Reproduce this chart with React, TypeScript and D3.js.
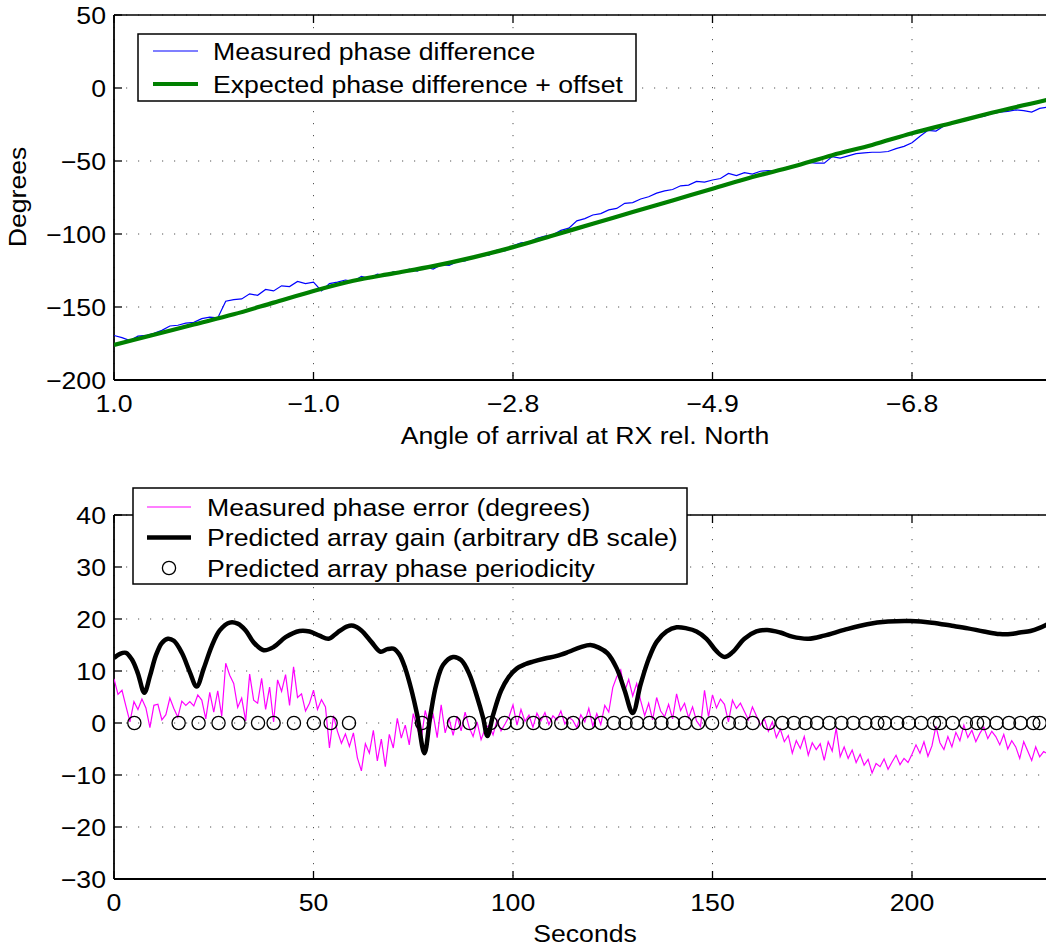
import React from "react";
import * as d3 from "d3";

// ---------- data ----------
const timeTicks = [0, 50, 100, 150, 200];
const angleTickLabels = ["1.0", "\u22121.0", "\u22122.8", "\u22124.9", "\u22126.8"];
const topYTicks = [-200, -150, -100, -50, 0, 50];
const bottomYTicks = [-30, -20, -10, 0, 10, 20, 30, 40];

// measured phase difference, sampled every 2 s
const measuredPhaseDiff = [
  -169.5, -171, -173, -170, -169.5, -168, -166, -163, -162.5, -161,
  -160.5, -158, -157, -157.5, -146, -145, -144.5, -141, -142, -138,
  -139, -135.5, -136, -132.5, -134, -133, -139, -134, -133, -131.5,
  -132.5, -129, -130.5, -127.5, -128.5, -126, -126.5, -124, -125.5, -122.5,
  -124, -121, -121.5, -119, -118.5, -116, -115, -114.5, -111, -111.5,
  -108, -106, -105.5, -103, -101.5, -100.5, -97.5, -96, -91, -89.5,
  -87, -86, -83.5, -82.5, -79, -78.5, -76, -74.5, -72, -70.5,
  -69.5, -67, -66.5, -64, -64.5, -63, -62, -58.5, -60, -58,
  -59, -57, -56.5, -57, -55, -53.5, -53, -51, -51.5, -51.5,
  -47, -48, -46.5, -45, -44.5, -44, -44, -43.5, -41.5, -40,
  -37.5, -33, -29, -29.5, -26, -24.5, -23, -21.5, -20, -19.5,
  -17.5, -16.5, -16, -15, -15.5, -16.5, -14, -13,
];
const measuredStep = 2;

// expected phase difference + offset
const expectedT = [0, 10, 20, 30, 40, 50, 60, 70, 80, 90, 100, 110, 120, 130, 140, 150, 160, 170, 180, 190, 200, 210, 220, 234];
const expectedV = [-176, -169, -162, -155, -147, -139, -132, -127, -122, -116, -109, -101, -93, -85, -77, -69, -61, -54, -46, -39, -31, -24, -17, -8];

// measured phase error (degrees), sampled every 1 s
const phaseError = [
  8.5, 5.5, 6.3, 3.2, 0.2, 4.1, 2.6, 4.6, 2.9, -0.9,
  3.4, 3.6, 0.6, 1.6, 4.8, 2.8, 1.1, 4.2, 3.4, 4.1,
  3.3, 5.4, 4.4, 0.8, 5.9, 2.1, 6.2, 1.3, 11.5, 9.2,
  7.6, 3.0, 4.8, 0.4, 9.4, 4.4, 3.8, 8.6, 2.6, 6.9,
  0.2, 8.3, 6.1, 9.3, 3.4, 10.8, 4.9, 5.6, 2.3, 3.8,
  6.3, 2.6, 4.5, 3.1, -4.8, 1.4, -1.6, -3.9, -2.1, -4.5,
  -1.9, -6.7, -9.2, -4.0, -5.8, -1.4, -7.3, -3.1, -8.4, -2.2,
  -4.8, 0.9, -2.9, -0.4, -4.2, 1.8, -1.0, -3.2, 2.4, -0.6,
  1.6, -2.8, 3.5, -1.9, 0.8, -2.4, 1.3, -1.5, 2.1, -0.8,
  -2.6, 0.2, -3.2, -1.1, -0.4, -2.3, 0.6, -1.5, -0.2, 1.2,
  3.5, -0.4, 2.6, 0.3, 1.5, -0.8, 1.9, 0.4, 2.0, -0.3,
  1.4, 0.6, 2.3, -0.2, 1.1, 0.5, -0.9, 1.6, 0.2, 2.8,
  -0.6, 1.8, -0.3, 3.4, 2.1, 6.8, 8.9, 10.2, 6.1, 8.4,
  5.2, 7.6, 4.3, 1.4, 3.8, 0.6, 4.9, 2.3, 1.2, 3.6,
  0.8, 5.6, 2.4, 3.8, 1.0, 3.1, 0.4, -0.7, 6.3, 1.2,
  5.4, 2.9, 4.6, 3.6, 0.2, 4.4, 2.8, 3.8, 2.2, 0.6,
  3.1, 1.4, -0.4, 0.8, -1.6, 0.2, -2.8, -1.2, -3.6, -2.4,
  -5.8, -3.4, -4.9, -2.6, -6.2, -3.8, -5.1, -4.0, -7.2, -3.6,
  -5.4, -1.0, -6.5, -4.6, -6.8, -5.2, -7.6, -6.0, -8.1, -7.0,
  -9.6, -7.8, -8.4, -6.9, -8.9, -7.5, -6.2, -8.0, -6.8, -7.6,
  -6.0, -4.2, -5.8, -3.6, -6.4, -4.4, -0.6, -3.8, -5.1, -2.6,
  -4.6, -1.8, -3.4, -0.4, -2.8, -1.4, -3.6, -2.0, -0.8, -3.0,
  -1.6, -2.6, -4.2, -2.2, -5.0, -3.4, -4.6, -6.8, -3.6, -5.4,
  -7.2, -4.6, -6.5, -5.5, -5.9,
];

// predicted array gain (arbitrary dB scale)
const gainT = [0, 1.5, 3, 4.5, 6, 7.6, 9, 10.5, 12, 13.5, 15, 17, 19, 20.7, 22.5, 24.5, 26.5, 29, 31, 33, 35, 37.5, 40, 43, 46.5, 49, 51.5, 53.8, 56, 58.5, 60, 62, 64.5, 66.8, 68.5, 70, 71.5, 73, 74.5, 76, 77.8, 79.3, 80.8, 82.5, 85, 87, 89, 91, 92.5, 93.6, 95, 97, 99, 101, 103, 105, 108, 111, 114, 117, 119.4, 121.5, 123.7, 126, 128, 130, 132, 134, 136, 138.5, 141, 143.5, 146, 148.5, 151, 153, 155, 158, 161, 163.7, 167, 170, 174, 178, 183, 188.8, 194, 199.6, 205, 210, 214, 218, 222, 224.7, 227, 229.7, 232, 234];
const gainV = [12.5, 13.3, 13.5, 12.2, 9.5, 5.8, 9, 13, 15.4, 16.2, 15.8, 13.5, 9.8, 7.0, 10.5, 14.8, 17.8, 19.3, 19.1, 17.8, 15.5, 14, 14.6, 16.5, 17.7, 17.6, 16.8, 16.2, 17.4, 18.6, 18.7, 17.8, 15.6, 13.7, 14.2, 14.3, 13.2, 10.5, 6.5, 1.5, -5.8, 1.5, 7.5, 11.2, 12.7, 12.1, 9.5, 5, 1, -2.5, 1.5, 6.2, 8.9, 10.5, 11.3, 11.8, 12.4, 12.9, 13.7, 14.6, 15, 14.5, 13.4, 10.5, 6.2, 1.9, 7.5, 12.3, 15.6, 17.6, 18.4, 18.2, 17.6, 16.2, 13.8, 12.7, 13.6, 16.2, 17.6, 17.9, 17.4, 16.6, 16.2, 16.8, 17.9, 19.0, 19.5, 19.6, 19.3, 18.7, 18.2, 17.6, 17.1, 17.1, 17.4, 17.7, 18.3, 19];

// predicted array phase periodicity (circle positions, seconds; value 0)
const periodicityT = [5.1, 16.2, 21.2, 26.2, 31.2, 36.1, 40.0, 45.1, 50.1, 54.3, 58.9, 77.2, 85.2, 89.1, 94.4, 97.9, 101.0, 105.1, 108.1, 112.1, 115.1, 119.0, 122.1, 125.3, 128.2, 131.1, 134.2, 137.2, 140.1, 143.1, 146.4, 149.9, 154.1, 157.0, 160.1, 164.1, 167.5, 170.4, 173.3, 176.2, 179.3, 182.3, 185.3, 188.3, 191.3, 193.2, 196.3, 199.2, 202.3, 205.5, 207.0, 210.2, 213.5, 216.3, 218.0, 221.2, 224.3, 227.2, 230.4, 232.0];

// ---------- layout ----------
const W = 1046;
const H = 949;
const FONT = "'Liberation Sans', Arial, Helvetica, sans-serif";
const FS = 24;
const SX = 1.11;

const xScale = d3.scaleLinear().domain([0, 240]).range([114, 114 + 240 * 3.99]);
const yTop = d3.scaleLinear().domain([-200, 50]).range([380, 15]);
const yBot = d3.scaleLinear().domain([-30, 40]).range([879, 515]);

const fmt = (v: number) => (v < 0 ? "\u2212" + Math.abs(v) : String(v));

function T({ x, y, anchor = "start", rotate = false, children }: any) {
  return (
    <text
      transform={`translate(${x},${y})${rotate ? " rotate(-90)" : ""} scale(${SX},1)`}
      textAnchor={anchor}
      fontFamily={FONT}
      fontSize={FS}
      fill="#000"
    >
      {children}
    </text>
  );
}

function Axes({ y, yTicks, xLabels, id }: any) {
  const [x0, x1] = xScale.range();
  const [yb, yt] = y.range();
  return (
    <g>
      {/* grid */}
      {timeTicks.map((t) => (
        <line key={"gx" + t} x1={xScale(t)} x2={xScale(t)} y1={yt} y2={yb} stroke="#555" strokeWidth={1} strokeDasharray="1.2,10.8" />
      ))}
      {yTicks.map((v: number) => (
        <line key={"gy" + v} x1={x0} x2={x1} y1={y(v)} y2={y(v)} stroke="#555" strokeWidth={1} strokeDasharray="1.2,10.8" />
      ))}
      {/* frame */}
      <line x1={x0} x2={x1} y1={yt} y2={yt} stroke="#000" strokeWidth={1.5} />
      <line x1={x0} x2={x1} y1={yb} y2={yb} stroke="#000" strokeWidth={1.8} />
      <line x1={x0} x2={x0} y1={yt} y2={yb} stroke="#000" strokeWidth={1.8} />
      {/* ticks */}
      {timeTicks.map((t) => (
        <g key={"tx" + t}>
          <line x1={xScale(t)} x2={xScale(t)} y1={yb} y2={yb - 8} stroke="#000" strokeWidth={1.3} />
          <line x1={xScale(t)} x2={xScale(t)} y1={yt} y2={yt + 8} stroke="#000" strokeWidth={1.3} />
        </g>
      ))}
      {yTicks.map((v: number) => (
        <line key={"ty" + v} x1={x0} x2={x0 + 8} y1={y(v)} y2={y(v)} stroke="#000" strokeWidth={1.3} />
      ))}
      {/* tick labels */}
      {yTicks.map((v: number) => (
        <T key={"ly" + v} x={106} y={y(v) + 8.5} anchor="end">{fmt(v)}</T>
      ))}
      {timeTicks.map((t, i) => (
        <T key={"lx" + t} x={xScale(t)} y={yb + 32} anchor="middle">{xLabels[i]}</T>
      ))}
      <clipPath id={id}>
        <rect x={x0} y={yt} width={x1 - x0} height={yb - yt} />
      </clipPath>
    </g>
  );
}

export default function App() {
  const blueLine = d3
    .line<number>()
    .x((_, i) => xScale(i * measuredStep))
    .y((v) => yTop(v))(measuredPhaseDiff);
  const greenLine = d3
    .line<number>()
    .x((_, i) => xScale(expectedT[i]))
    .y((v) => yTop(v))
    .curve(d3.curveMonotoneX)(expectedV);
  const magentaLine = d3
    .line<number>()
    .x((_, i) => xScale(i))
    .y((v) => yBot(v))(phaseError);
  const gainLine = d3
    .line<number>()
    .x((_, i) => xScale(gainT[i]))
    .y((v) => yBot(v))
    .curve(d3.curveCatmullRom.alpha(0.5))(gainV);

  const timeLabels = timeTicks.map((t) => String(t));

  return (
    <svg
      width={W}
      height={H}
      style={{ position: "absolute", left: 0, top: 0, background: "#fff" }}
    >
      <rect x={0} y={0} width={W} height={H} fill="#fff" />

      {/* ---------- top panel ---------- */}
      <Axes y={yTop} yTicks={topYTicks} xLabels={angleTickLabels} id="clipTop" />
      <g clipPath="url(#clipTop)">
        <path d={blueLine || ""} fill="none" stroke="#0000ff" strokeWidth={1.2} />
        <path d={greenLine || ""} fill="none" stroke="#008000" strokeWidth={4.2} />
      </g>
      <T x={26} y={197} anchor="middle" rotate>Degrees</T>
      <T x={585} y={444} anchor="middle">Angle of arrival at RX rel. North</T>

      {/* top legend */}
      <rect x={138} y={34} width={498} height={67} fill="#fff" stroke="#000" strokeWidth={1.5} />
      <line x1={153} x2={198} y1={51} y2={51} stroke="#0000ff" strokeWidth={1.2} />
      <T x={213} y={59.5}>Measured phase difference</T>
      <line x1={153} x2={198} y1={84} y2={84} stroke="#008000" strokeWidth={4.2} />
      <T x={213} y={92.5}>Expected phase difference + offset</T>

      {/* ---------- bottom panel ---------- */}
      <Axes y={yBot} yTicks={bottomYTicks} xLabels={timeLabels} id="clipBot" />
      <g clipPath="url(#clipBot)">
        <path d={magentaLine || ""} fill="none" stroke="#ff00ff" strokeWidth={1.2} />
        <path d={gainLine || ""} fill="none" stroke="#000" strokeWidth={4.5} strokeLinejoin="round" />
        {periodicityT.map((t, i) => (
          <circle key={i} cx={xScale(t)} cy={yBot(0)} r={6.6} fill="none" stroke="#000" strokeWidth={1.3} />
        ))}
      </g>
      <T x={585} y={942} anchor="middle">Seconds</T>

      {/* bottom legend */}
      <rect x={133} y={488} width={554} height={96} fill="#fff" stroke="#000" strokeWidth={1.5} />
      <line x1={147} x2={191} y1={507} y2={507} stroke="#ff00ff" strokeWidth={1.2} />
      <T x={207} y={515.5}>Measured phase error (degrees)</T>
      <line x1={147} x2={191} y1={537.5} y2={537.5} stroke="#000" strokeWidth={4.5} />
      <T x={207} y={546}>Predicted array gain (arbitrary dB scale)</T>
      <circle cx={169} cy={568} r={6.6} fill="none" stroke="#000" strokeWidth={1.3} />
      <T x={207} y={576.5}>Predicted array phase periodicity</T>
    </svg>
  );
}
